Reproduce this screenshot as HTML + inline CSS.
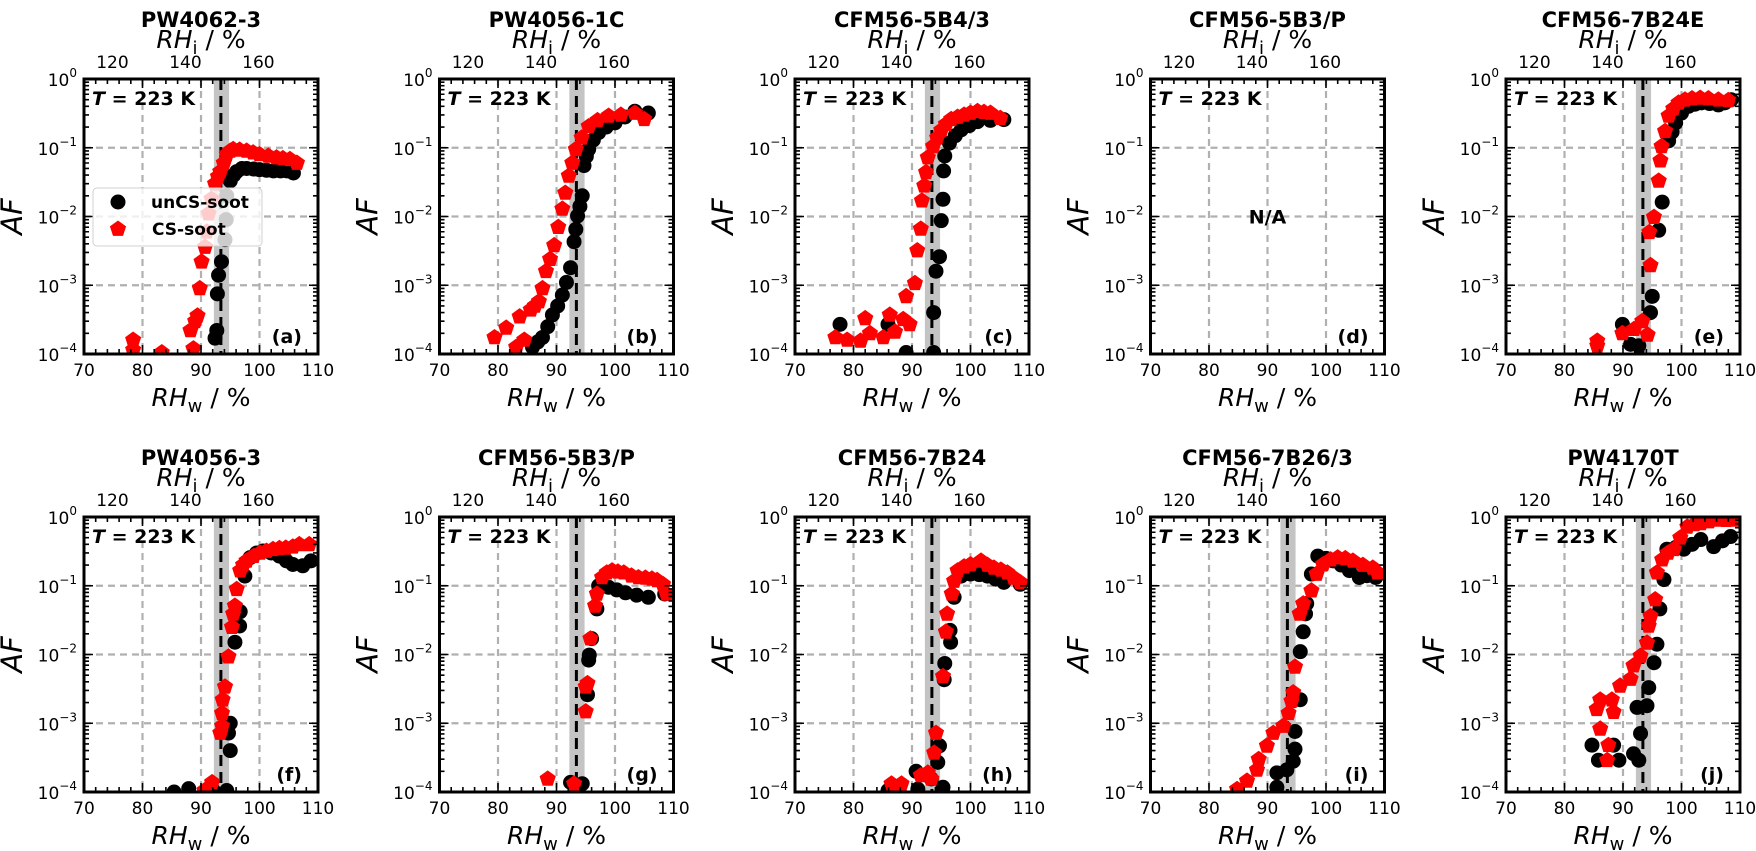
<!DOCTYPE html>
<html><head><meta charset="utf-8">
<style>
html,body{margin:0;padding:0;background:#fff;}
svg{display:block;font-family:"DejaVu Sans","Liberation Sans",sans-serif;}
</style></head>
<body>
<svg id="fig" width="1756" height="851" viewBox="0 0 1756 851" xmlns="http://www.w3.org/2000/svg"></svg>
<script>
const panelTitles=["PW4062-3","PW4056-1C","CFM56-5B4/3","CFM56-5B3/P","CFM56-7B24E","PW4056-3","CFM56-5B3/P","CFM56-7B24","CFM56-7B26/3","PW4170T"];
const panelTags=["(a)","(b)","(c)","(d)","(e)","(f)","(g)","(h)","(i)","(j)"];
const xTicks=[70,80,90,100,110];
const topTicks=[120,140,160];
const yTickExp=[0,-1,-2,-3,-4];
const rhiFactor=1.603;
const criticalRH=93.4;
const bandLo=92.2, bandHi=94.8;

const unCS_a=[[92.4,1.7e-4],[92.7,2.2e-4],[92.8,7.5e-4],[93,1.4e-3],[93.5,2.2e-3],[94.1,4.6e-3],[94.3,9e-3],[94.4,0.02],[95,0.033],[95.6,0.04],[96.1,0.045],[97,0.05],[97.8,0.05],[99,0.049],[100,0.048],[101.2,0.047],[102.4,0.046],[103.6,0.046],[104.7,0.046],[105.8,0.043]];
const cs_a=[[78.4,1.6e-4],[78.4,1.15e-4],[83.3,1.05e-4],[88.7,1.2e-4],[88.2,2.2e-4],[89,3e-4],[89.4,3.6e-4],[89.8,9e-4],[90.1,2.2e-3],[90.7,3.6e-3],[91,6e-3],[91.3,0.011],[91.8,0.018],[92.4,0.03],[92.9,0.038],[93.3,0.045],[93.9,0.06],[94.4,0.08],[95,0.09],[95.5,0.095],[96.6,0.093],[97.8,0.09],[98.9,0.085],[100,0.08],[101.5,0.076],[102.9,0.072],[104,0.07],[105.2,0.068],[106.4,0.06]];
const unCS_b=[[85.9,1.26e-4],[86.8,1.5e-4],[87.6,1.74e-4],[88.5,2.5e-4],[89.3,3.7e-4],[90.2,5e-4],[91,7.2e-4],[91.7,1.1e-3],[92.4,1.8e-3],[93,4.3e-3],[93.3,6.5e-3],[93.6,0.0102],[94,0.014],[94.4,0.02],[94.7,0.055],[95.1,0.075],[95.5,0.095],[96.3,0.13],[97.2,0.166],[98.5,0.2],[100,0.23],[101.7,0.28],[103.4,0.34],[105.7,0.32]];
const cs_b=[[79.4,1.74e-4],[81.4,2.4e-4],[83.1,1.26e-4],[83.7,3.5e-4],[84.5,1.6e-4],[85.6,4.4e-4],[86.3,5e-4],[87,5.8e-4],[87.6,9e-4],[88.2,1.6e-3],[88.9,2.4e-3],[89.6,3.8e-3],[90.3,7e-3],[91,0.0129],[91.5,0.022],[92.1,0.039],[92.7,0.06],[93.3,0.095],[94.3,0.14],[95.5,0.204],[97,0.25],[98.9,0.29],[101,0.3],[103.4,0.32],[105,0.26]];
const unCS_c=[[77.7,2.7e-4],[85.9,2.7e-4],[89,1.05e-4],[93.7,1.05e-4],[93.7,4e-4],[94.1,1.6e-3],[94.7,2.6e-3],[95,8.7e-3],[95.3,0.0178],[95.4,0.046],[95.6,0.076],[96.4,0.117],[97.4,0.15],[98.4,0.182],[99.8,0.21],[101.2,0.24],[103.4,0.25],[105.7,0.257]];
const cs_c=[[76.9,1.74e-4],[78.9,1.6e-4],[81.2,1.55e-4],[82,3.3e-4],[82.8,2e-4],[85.1,1.74e-4],[86.2,3.7e-4],[87.1,2.1e-4],[88.5,3.2e-4],[89.6,2.7e-4],[89,6.9e-4],[90.5,1.07e-3],[90.9,3.2e-3],[91.5,6.6e-3],[91.7,0.017],[92.1,0.028],[92.4,0.044],[92.7,0.072],[93.6,0.105],[94.3,0.14],[95,0.18],[95.8,0.22],[96.7,0.26],[97.8,0.28],[98.9,0.3],[100,0.32],[101.2,0.34],[102.3,0.33],[103.4,0.32],[105.1,0.27]];
const unCS_e=[[89.9,2.7e-4],[91.3,1.38e-4],[92.7,1.32e-4],[94.7,4e-4],[95,6.9e-4],[96.1,6.3e-3],[96.7,0.0162],[97.8,0.126],[98.4,0.17],[99,0.23],[100,0.32],[101.2,0.4],[102.3,0.43],[103.4,0.45],[104.8,0.44],[106.3,0.42],[107.4,0.45],[108.5,0.5]];
const cs_e=[[85.6,1.55e-4],[85.6,1.32e-4],[89.9,2e-4],[91.9,2.3e-4],[93.3,3e-4],[94.2,1.9e-4],[94.7,1.95e-3],[94.5,5.9e-3],[95.3,9.8e-3],[96.1,0.033],[96.4,0.065],[96.6,0.105],[97.2,0.174],[97.8,0.29],[98.6,0.37],[99.5,0.45],[100.6,0.5],[101.8,0.52],[103.2,0.53],[104.6,0.52],[106.3,0.5],[108,0.49]];
const unCS_f=[[85.4,1e-4],[87.9,1.12e-4],[92.1,1.05e-4],[94.4,1.05e-4],[95,4e-4],[94.7,7.2e-4],[95,1e-3],[95.8,0.0151],[96.6,0.026],[96.7,0.042],[97.5,0.138],[98.4,0.257],[99.5,0.3],[100.6,0.32],[102,0.3],[103.4,0.27],[104.6,0.23],[105.7,0.204],[107.4,0.195],[108.8,0.23]];
const cs_f=[[91.9,1.38e-4],[90.6,1.05e-4],[93.3,7.2e-4],[93.6,9.1e-4],[93.6,1.4e-3],[93.7,2.2e-3],[94.1,3.4e-3],[94.7,9.3e-3],[95.3,0.025],[95.5,0.039],[95.8,0.051],[96.1,0.089],[96.7,0.166],[97.2,0.2],[97.8,0.23],[99,0.27],[100.1,0.3],[101.2,0.32],[102.3,0.34],[103.4,0.35],[104.5,0.355],[105.7,0.37],[106.8,0.4],[108.5,0.4]];
const unCS_g=[[92.4,1.38e-4],[94.4,1.32e-4],[95.3,2.6e-3],[95.5,8.3e-3],[95.6,9.8e-3],[96,0.017],[96.9,0.046],[97.2,0.1],[98,0.1],[98.9,0.095],[100.3,0.087],[101.8,0.079],[103.7,0.073],[105.7,0.068],[108.5,0.076]];
const cs_g=[[88.5,1.55e-4],[93,1.32e-4],[95,1.48e-3],[95,3.4e-3],[95.3,3.8e-3],[95.8,0.017],[96.6,0.051],[96.9,0.076],[97.8,0.132],[98.6,0.155],[99.5,0.166],[100.5,0.16],[101.5,0.155],[102.8,0.14],[104,0.132],[105.2,0.13],[106.3,0.126],[107.2,0.12],[108.2,0.105],[108.8,0.076]];
const unCS_h=[[85.9,1.05e-4],[90.7,2e-4],[91,1.1e-4],[93.3,1.55e-4],[94.4,2.7e-4],[94.7,4.7e-4],[95.3,1.17e-4],[95.5,4.3e-3],[95.6,7.4e-3],[96.6,0.0151],[96.5,0.0224],[97.2,0.068],[98.4,0.138],[100,0.148],[101.5,0.145],[102.9,0.138],[104.3,0.125],[105.7,0.112],[108.5,0.105]];
const cs_h=[[86.5,1.32e-4],[88.2,1.32e-4],[91.5,1.74e-4],[92.7,1.9e-4],[93.3,1.55e-4],[93.8,3.7e-4],[94.1,7.2e-4],[95.3,4.8e-3],[95.8,0.0214],[96,0.039],[96.8,0.076],[97.2,0.117],[97.8,0.166],[98.9,0.19],[100,0.204],[101.8,0.23],[102.9,0.2],[104,0.182],[105.2,0.17],[106.3,0.155],[107.4,0.13],[108.5,0.112]];
const unCS_i=[[91.6,1.17e-4],[91.6,1.9e-4],[93.3,2.1e-4],[94.4,2.8e-4],[94.7,4.2e-4],[94.7,7.6e-4],[95.6,2.2e-3],[95.6,0.011],[96.1,0.0214],[96.5,0.039],[96.7,0.055],[97.5,0.148],[98.6,0.27],[100,0.25],[101.2,0.23],[102.6,0.2],[104,0.166],[105.7,0.132],[107,0.14],[108.5,0.132]];
const cs_i=[[84.8,1.1e-4],[86.5,1.45e-4],[88.2,2.1e-4],[88.5,3e-4],[89.9,4.7e-4],[91,7.2e-4],[92.7,9.1e-4],[93.6,1.4e-3],[94.1,2.1e-3],[94.4,2.8e-3],[94.7,6.6e-3],[95.5,0.039],[96.1,0.055],[97.5,0.085],[98.4,0.148],[99.5,0.204],[100.8,0.24],[102,0.257],[103.3,0.25],[104.6,0.23],[106.3,0.2],[108,0.182],[108.8,0.155]];
const unCS_j=[[84.7,4.8e-4],[85.8,2.9e-4],[88.4,4.8e-4],[89.3,2.9e-4],[91.8,3.6e-4],[92.7,2.9e-4],[93,7.1e-4],[92.4,1.7e-3],[94.1,1.8e-3],[94.4,3.3e-3],[95.3,7.6e-3],[95.8,0.0141],[96.3,0.046],[97,0.123],[97.5,0.34],[99,0.36],[100.4,0.34],[101.8,0.4],[103.3,0.47],[105.5,0.37],[107,0.45],[108.4,0.52]];
const cs_j=[[87.3,2.9e-4],[87.5,4.8e-4],[86.1,8.3e-4],[85.5,1.6e-3],[86.1,2.2e-3],[88.4,1.45e-3],[88.1,2.2e-3],[89.5,3.5e-3],[91.3,4.4e-3],[91.8,6.9e-3],[93,9.5e-3],[94.1,0.0148],[94.4,0.026],[94.7,0.036],[95.5,0.063],[95.8,0.155],[96.7,0.24],[97.7,0.3],[98.7,0.34],[99.8,0.5],[101,0.72],[102.2,0.78],[103.3,0.81],[104.7,0.86],[106.1,0.91],[107.6,0.9],[109,0.91]];

const unCSData=[unCS_a,unCS_b,unCS_c,[],unCS_e,unCS_f,unCS_g,unCS_h,unCS_i,unCS_j];
const csData=[cs_a,cs_b,cs_c,[],cs_e,cs_f,cs_g,cs_h,cs_i,cs_j];

const NS="http://www.w3.org/2000/svg";
const svg=document.getElementById('fig');
function mk(tag,attrs,parent){const e=document.createElementNS(NS,tag);for(const k in attrs)e.setAttribute(k,attrs[k]);(parent||svg).appendChild(e);return e;}
const W=234,H=275;
const defs=mk('defs',{});

for(let p=0;p<10;p++){
  const col=p%5,row=Math.floor(p/5);
  const L=84+col*355.5,T=79+row*438;
  const xS=v=>L+(v-70)/40*W;
  const yS=a=>T+(-Math.log10(a))/4*H;
  const g=mk('g',{});
  
  
  const cp=mk('clipPath',{id:'cp'+p},defs);
  mk('rect',{x:L,y:T,width:W,height:H},cp);
  const t=mk('text',{x:L+W/2,y:T-52,'text-anchor':'middle','font-size':21,'font-weight':'bold'},g);
  t.textContent=panelTitles[p];
  
  
  const tt=mk('text',{x:L+W/2,y:T-31,'text-anchor':'middle','font-size':25},g);
  tt.innerHTML='<tspan font-style="italic">RH</tspan><tspan font-size="18" dy="6">i</tspan><tspan dy="-6"> / %</tspan>';
  
  
  const bt=mk('text',{x:L+W/2,y:T+H+52,'text-anchor':'middle','font-size':25},g);
  bt.innerHTML='<tspan font-style="italic">RH</tspan><tspan font-size="18" dy="6">w</tspan><tspan dy="-6"> / %</tspan>';
  
  
  const yt=mk('text',{x:0,y:0,'text-anchor':'middle','font-size':29,'font-style':'italic',transform:`translate(${L-62},${T+H/2}) rotate(-90)`},g);
  yt.textContent='AF';
  
  
  xTicks.slice(1,-1).forEach(v=>{
    const l=mk('line',{x1:xS(v),x2:xS(v),y1:T,y2:T+H,stroke:'#b0b0b0','stroke-width':2.2,'stroke-dasharray':'7,5'},g);
    
    
  });
  yTickExp.slice(1,-1).forEach(e=>{
    const y=yS(Math.pow(10,e));
    const l=mk('line',{x1:L,x2:L+W,y1:y,y2:y,stroke:'#b0b0b0','stroke-width':2.2,'stroke-dasharray':'7,5'},g);
    
    
  });
  if(p!==3){
    const band=mk('rect',{x:xS(bandLo),y:T,width:xS(bandHi)-xS(bandLo),height:H,fill:'#c4c4c4'},g);
    
    
    const cl=mk('line',{x1:xS(criticalRH),x2:xS(criticalRH),y1:T,y2:T+H,stroke:'#000','stroke-width':3,'stroke-dasharray':'11,6'},g);
    
    
  }
  const dg=mk('g',{'clip-path':`url(#cp${p})`},g);
  unCSData[p].forEach(d=>{
    const c=mk('circle',{cx:xS(d[0]),cy:yS(d[1]),r:7.5,fill:'#000'},dg);
    
    
  });
  csData[p].forEach(d=>{
    const cx=xS(d[0]),cy=yS(d[1]),r=8.5;let pts=[];
    for(let k=0;k<5;k++){const a=-Math.PI/2+k*2*Math.PI/5;pts.push((cx+r*Math.cos(a)).toFixed(1)+','+(cy+r*Math.sin(a)).toFixed(1));}
    const pg=mk('polygon',{points:pts.join(' '),fill:'#ff0000'},dg);
    
    
  });
  if(p===3){
    const na=mk('text',{x:L+W/2,y:T+H/2+7,'text-anchor':'middle','font-size':19,'font-weight':'bold'},g);
    na.textContent='N/A';
    
    
  }
  let tk='';
  for(let v=70;v<=110;v+=2){const x=xS(v);const len=(v%10===0)?9:5;tk+=`M${x},${T+H}v${-len}M${x},${T}v${len}`;}
  for(let e=0;e>-4;e--){for(let m=1;m<10;m++){const y=yS(m*Math.pow(10,e-1));const len=(m===1)?9:5;tk+=`M${L},${y}h${len}M${L+W},${y}h${-len}`;}}
  const tp=mk('path',{d:tk,stroke:'#000','stroke-width':1.6,fill:'none'},g);
  
  
  const fr=mk('rect',{x:L,y:T,width:W,height:H,fill:'none',stroke:'#000','stroke-width':3},g);
  
  
  xTicks.forEach(v=>{
    const tl=mk('text',{x:xS(v),y:T+H+22,'text-anchor':'middle','font-size':17},g);
    tl.textContent=v;
    
    
  });
  topTicks.forEach(v=>{
    const x=xS(v/rhiFactor);
    const tl=mk('text',{x:x,y:T-11,'text-anchor':'middle','font-size':17},g);
    tl.textContent=v;
    
    
  });
  yTickExp.forEach(e=>{
    const y=yS(Math.pow(10,e));
    const tl=mk('text',{x:L-7,y:y+7,'text-anchor':'end','font-size':17},g);
    tl.innerHTML='10<tspan dy="-9" font-size="12">'+(e===0?'0':'\u2212'+(-e))+'</tspan>';
    
    
  });
  const ta=mk('text',{x:L+8,y:T+26,'font-size':19,'font-weight':'bold'},g);
  ta.innerHTML='<tspan font-style="italic">T</tspan> = 223 K';
  
  
  const tg=mk('text',{x:L+W-16,y:T+H-11,'text-anchor':'end','font-size':19,'font-weight':'bold'},g);
  tg.textContent=panelTags[p];
  
  
  if(p===0){
    const lg=mk('g',{},g);
    
    
    mk('rect',{x:93,y:188,width:169,height:58,rx:4,fill:'#fff','fill-opacity':0.8,stroke:'#d0d0d0','stroke-width':1},lg);
    const c=mk('circle',{cx:118,cy:202,r:7.5,fill:'#000'},lg);
    
    
    let pts=[];for(let k=0;k<5;k++){const a=-Math.PI/2+k*2*Math.PI/5;pts.push((118+8.5*Math.cos(a)).toFixed(1)+','+(229+8.5*Math.sin(a)).toFixed(1));}
    const pm=mk('polygon',{points:pts.join(' '),fill:'#ff0000'},lg);
    
    
    const l1=mk('text',{x:151,y:208,'font-size':17,'font-weight':'bold'},lg);
    l1.textContent='unCS-soot';
    
    
    const l2=mk('text',{x:152,y:235,'font-size':17,'font-weight':'bold'},lg);
    l2.textContent='CS-soot';
    
    
  }
}
</script>
</body></html>
